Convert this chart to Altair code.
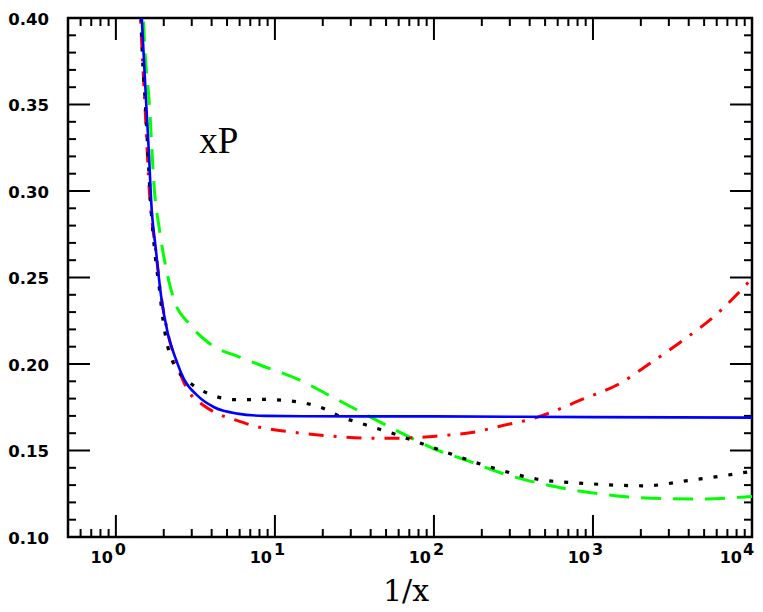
import altair as alt
import pandas as pd

# ---- data ----
blue_x = [1.40, 1.455, 1.557, 1.617, 1.665, 1.79, 1.92, 2.12, 2.39, 2.69, 3.26, 4.15, 5.81, 8.7, 15, 100, 1000, 10000]
blue_y = [0.435, 0.400, 0.348, 0.320, 0.295, 0.265, 0.240, 0.2177, 0.2025, 0.191, 0.1817, 0.175, 0.1713, 0.1700, 0.1698, 0.1697, 0.1693, 0.1690]

red_x = [1.38, 1.43, 1.526, 1.626, 1.79, 1.92, 2.12, 2.39, 2.69, 3.04, 3.51, 4.3, 5.5, 7.2, 13.8, 25.2, 44.8, 79.7, 112, 189, 250, 439, 881, 1426, 2305, 3725, 6030, 10000]
red_y = [0.435, 0.400, 0.348, 0.299, 0.264, 0.240, 0.218, 0.2015, 0.189, 0.181, 0.1765, 0.1715, 0.168, 0.1645, 0.1603, 0.158, 0.157, 0.1575, 0.1586, 0.161, 0.1637, 0.169, 0.180, 0.188, 0.2006, 0.214, 0.229, 0.2495]

black_x = [1.41, 1.44, 1.545, 1.65, 1.77, 1.88, 1.95, 2.12, 2.3, 2.5, 2.96, 3.59, 4.46, 5.53, 8.7, 14.1, 20.6, 25.2, 36.8, 56.6, 83.6, 128, 198, 240, 448, 881, 2100, 4100, 8030, 10000]
black_y = [0.435, 0.400, 0.345, 0.295, 0.262, 0.243, 0.230, 0.210, 0.2005, 0.195, 0.1887, 0.184, 0.1807, 0.1794, 0.1795, 0.178, 0.174, 0.170, 0.165, 0.1595, 0.154, 0.148, 0.142, 0.1397, 0.1334, 0.131, 0.1296, 0.1328, 0.1366, 0.138]

green_x = [1.45, 1.49, 1.63, 1.745, 1.875, 2.065, 2.33, 2.89, 3.86, 6.0, 8.3, 14.1, 21.8, 35.2, 54.2, 100, 164, 265, 543, 1110, 2305, 4750, 10000]
green_y = [0.435, 0.400, 0.348, 0.301, 0.2783, 0.2556, 0.2366, 0.2233, 0.212, 0.204, 0.199, 0.191, 0.182, 0.172, 0.163, 0.151, 0.144, 0.137, 0.1296, 0.1249, 0.1224, 0.122, 0.1234]

y_major = [0.15, 0.20, 0.25, 0.30, 0.35]
y_minor = [0.11, 0.12, 0.13, 0.14, 0.16, 0.17, 0.18, 0.19, 0.21, 0.22, 0.23, 0.24,
           0.26, 0.27, 0.28, 0.29, 0.31, 0.32, 0.33, 0.34, 0.36, 0.37, 0.38, 0.39]
x_major = [1, 10, 100, 1000]
x_minor = [0.6, 0.7, 0.8, 0.9,
           2, 3, 4, 5, 6, 7, 8, 9,
           20, 30, 40, 50, 60, 70, 80, 90,
           200, 300, 400, 500, 600, 700, 800, 900,
           2000, 3000, 4000, 5000, 6000, 7000, 8000, 9000]

y_label_vals = [0.10, 0.15, 0.20, 0.25, 0.30, 0.35, 0.40]
y_label_text = ["0.10", "0.15", "0.20", "0.25", "0.30", "0.35", "0.40"]
x_label_vals = [1, 10, 100, 1000]
x_label_base = ["10", "10", "10", "10"]
x_label_exp = ["0", "1", "2", "3"]
x_last_val = [10000]
x_last_base = ["10"]
x_last_exp = ["4"]

panel_label = ["xP"]
panel_label_x = [3.35]
panel_label_y = [0.322]
x_title = ["1/x"]

W, H = 684, 519
xs = alt.Scale(type="log", domain=[0.5, 10000], nice=False)
ys = alt.Scale(domain=[0.10, 0.40], nice=False, zero=False)


def X(f="x"):
    return alt.X(f + ":Q", scale=xs, axis=None)


def Y(f="y"):
    return alt.Y(f + ":Q", scale=ys, axis=None)


def curve(xv, yv, color, dash, width):
    df = pd.DataFrame({"x": xv, "y": yv})
    kw = dict(color=color, strokeWidth=width, clip=True, interpolate="monotone")
    if dash:
        kw["strokeDash"] = dash
    return alt.Chart(df).mark_line(**kw).encode(x=X(), y=Y())


ymaj = pd.DataFrame({"y": y_major})
ymin = pd.DataFrame({"y": y_minor})
xmaj = pd.DataFrame({"x": x_major})
xmin = pd.DataFrame({"x": x_minor})

tick_kw = dict(color="black", strokeWidth=2)
ticks = [
    alt.Chart(ymaj).mark_rule(**tick_kw).encode(y=Y(), x=alt.value(0), x2=alt.value(22)),
    alt.Chart(ymaj).mark_rule(**tick_kw).encode(y=Y(), x=alt.value(W - 22), x2=alt.value(W)),
    alt.Chart(ymin).mark_rule(**tick_kw).encode(y=Y(), x=alt.value(0), x2=alt.value(8)),
    alt.Chart(ymin).mark_rule(**tick_kw).encode(y=Y(), x=alt.value(W - 8), x2=alt.value(W)),
    alt.Chart(xmaj).mark_rule(**tick_kw).encode(x=X(), y=alt.value(H), y2=alt.value(H - 22)),
    alt.Chart(xmaj).mark_rule(**tick_kw).encode(x=X(), y=alt.value(0), y2=alt.value(22)),
    alt.Chart(xmin).mark_rule(**tick_kw).encode(x=X(), y=alt.value(H), y2=alt.value(H - 8)),
    alt.Chart(xmin).mark_rule(**tick_kw).encode(x=X(), y=alt.value(0), y2=alt.value(8)),
]

lines = [
    curve(green_x, green_y, "#00ff00", [20, 12], 3),
    curve(red_x, red_y, "#ff0000", [15, 10, 3, 10], 3),
    curve(black_x, black_y, "#000000", [4, 11], 3.2),
    curve(blue_x, blue_y, "#0000ff", None, 2.6),
]

ylab = pd.DataFrame({"y": y_label_vals, "t": y_label_text})
xlab = pd.DataFrame({"x": x_label_vals, "b": x_label_base, "e": x_label_exp})
xlast = pd.DataFrame({"x": x_last_val, "b": x_last_base, "e": x_last_exp})
plab = pd.DataFrame({"x": panel_label_x, "y": panel_label_y, "t": panel_label})
tlab = pd.DataFrame({"t": x_title})

lab_kw = dict(font="DejaVu Sans", fontWeight="bold", color="black")
labels = [
    alt.Chart(ylab).mark_text(align="right", baseline="middle", fontSize=16.5, dy=1.5, **lab_kw)
    .encode(y=Y(), x=alt.value(-19), text="t:N"),
    alt.Chart(xlab).mark_text(align="right", baseline="alphabetic", fontSize=16, dx=-3, **lab_kw)
    .encode(x=X(), y=alt.value(H + 26), text="b:N"),
    alt.Chart(xlab).mark_text(align="left", baseline="alphabetic", fontSize=16, dx=-1, **lab_kw)
    .encode(x=X(), y=alt.value(H + 18), text="e:N"),
    alt.Chart(xlast).mark_text(align="right", baseline="alphabetic", fontSize=16, dx=-10, **lab_kw)
    .encode(x=X(), y=alt.value(H + 26), text="b:N"),
    alt.Chart(xlast).mark_text(align="left", baseline="alphabetic", fontSize=16, dx=-9, **lab_kw)
    .encode(x=X(), y=alt.value(H + 18), text="e:N"),
    alt.Chart(plab).mark_text(align="left", baseline="alphabetic", font="Liberation Serif",
                              fontSize=37, color="black")
    .encode(x=X(), y=Y(), text="t:N"),
    alt.Chart(tlab).mark_text(align="center", baseline="alphabetic", font="DejaVu Serif",
                              fontSize=30, color="black")
    .encode(x=alt.value(338), y=alt.value(H + 64), text="t:N"),
]

chart = (
    alt.layer(*ticks, *lines, *labels)
    .properties(
        width=W,
        height=H,
        autosize=alt.AutoSizeParams(type="none"),
        padding={"left": 60, "top": 10, "right": 3, "bottom": 74},
    )
    .configure_view(stroke="black", strokeWidth=2.5)
)

chart.save("out.html", embed_options={"renderer": "svg", "actions": False})
